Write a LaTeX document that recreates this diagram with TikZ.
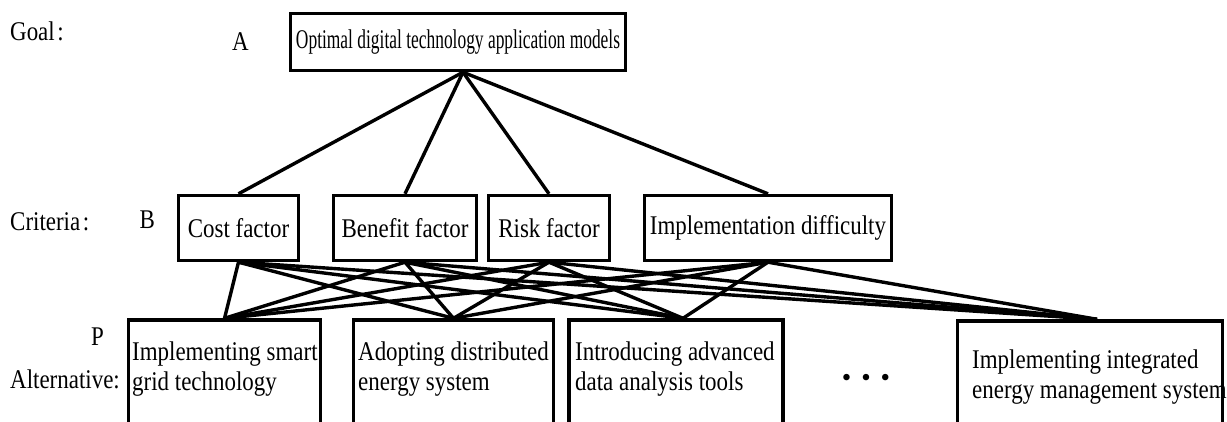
\documentclass[tikz,border=0pt]{standalone}
\usepackage{fontspec}
\setmainfont{Liberation Serif}
\usepackage{graphicx}
\usetikzlibrary{calc}
\newcommand\hs[1]{\scalebox{0.85}[1]{#1}}
\newcommand\twol[2]{\scalebox{0.85}[1]{\begin{tabular}[t]{@{}l@{}}#1\\#2\end{tabular}}}
\begin{document}
\begin{tikzpicture}[x=1pt,y=-1pt,
  every node/.style={font=\fontsize{27}{30}\selectfont, inner sep=0pt},
  box/.style={draw, line width=3.4pt, rectangle},
  conn/.style={line width=3.4pt},
  lbl/.style={anchor=base west}]
\useasboundingbox (0,0) rectangle (1227,421);
\begin{scope}
\clip (0,0) rectangle (1227,421);
% goal
\node[box, minimum width=335pt, minimum height=57pt] (a) at (458,42) {\raisebox{-2pt}{\scalebox{0.645}[1]{Optimal digital technology application models}}};
% criteria
\node[box, minimum width=120pt, minimum height=65pt] (b1) at (238.5,228) {\hs{Cost factor}};
\node[box, minimum width=143pt, minimum height=65pt] (b2) at (405,228) {\hs{Benefit factor}};
\node[box, minimum width=121pt, minimum height=65pt] (b3) at (549,228) {\hs{Risk factor}};
\node[box, minimum width=247pt, minimum height=65pt] (b4) at (768,228) {\hs{Implementation difficulty}};
% alternatives
\node[box, minimum width=192pt, minimum height=130pt] (p1) at (224.5,385) {};
\node[box, minimum width=200pt, minimum height=130pt] (p2) at (453.5,385) {};
\node[box, minimum width=214pt, minimum height=130pt] (p3) at (676,385) {};
\node[box, minimum width=265pt, minimum height=130pt] (p4) at (1090,386) {};
\node[anchor=base west] (t1) at (132,360) {\twol{Implementing smart}{grid technology}};
\node[anchor=base west] (t2) at (358,360) {\twol{Adopting distributed}{energy system}};
\node[anchor=base west] (t3) at (575,360) {\twol{Introducing advanced}{data analysis tools}};
\node[anchor=base west] (t4) at (972,368) {\twol{Implementing integrated}{energy management system}};
\node (dots) at (866,380) {\textbullet\hspace{10pt}\textbullet\hspace{10pt}\textbullet};
% labels
\node[lbl] (goal) at (10,40) {\hs{Goal\kern3pt:}};
\node[lbl] (la) at (232,50) {\hs{A}};
\node[lbl] (crit) at (10,230) {\hs{Criteria\kern3pt:}};
\node[lbl] (lb) at (139.5,228) {\hs{B}};
\node[lbl] (lp) at (91,345) {\hs{P}};
\node[lbl] (alt) at (10,388) {\hs{Alternative:}};
% connection points
\coordinate (as) at ($(a.south)+(5,0)$);
\coordinate (p3n) at ($(p3.north)+(7,0)$);
\coordinate (p4n) at ($(p4.north)+(7,0)$);
% connectors
\foreach \b in {b1,b2,b3,b4} \draw[conn] (as) -- (\b.north);
\foreach \b in {b1,b2,b3,b4} {
  \draw[conn] (\b.south) -- (p1.north);
  \draw[conn] (\b.south) -- (p2.north);
  \draw[conn] (\b.south) -- (p3n);
  \draw[conn] (\b.south) -- (p4n);
}
\end{scope}
\end{tikzpicture}
\end{document}
